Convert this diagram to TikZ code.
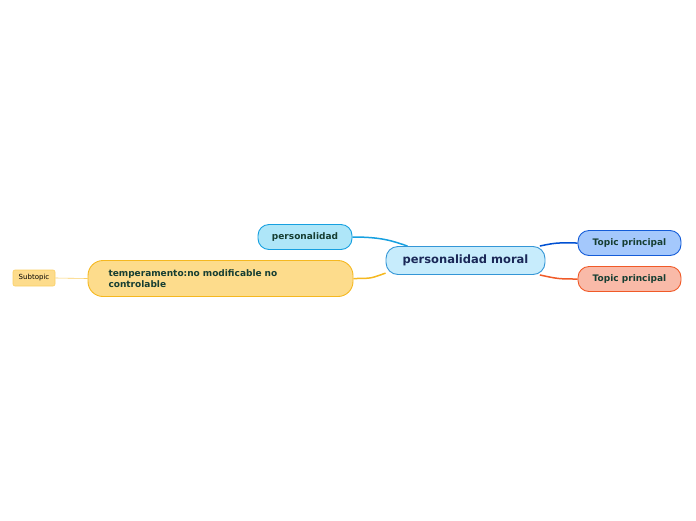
\documentclass[tikz,border=0pt]{standalone}
\usepackage{fontspec}
\setmainfont{DejaVu Sans}
\usetikzlibrary{backgrounds}
\definecolor{txtgreen}{RGB}{22,62,50}
\definecolor{txtnavy}{RGB}{26,40,88}
\definecolor{cfill}{RGB}{199,236,252}
\definecolor{cdraw}{RGB}{52,150,214}
\definecolor{pfill}{RGB}{174,230,248}
\definecolor{pdraw}{RGB}{22,160,224}
\definecolor{yfill}{RGB}{253,220,140}
\definecolor{ydraw}{RGB}{245,184,32}
\definecolor{sdraw}{RGB}{250,206,100}
\definecolor{bfill}{RGB}{164,200,252}
\definecolor{bdraw}{RGB}{20,92,216}
\definecolor{bline}{RGB}{0,80,210}
\definecolor{rfill}{RGB}{249,186,168}
\definecolor{rdraw}{RGB}{240,90,40}
\tikzset{
  topicbox/.style={draw, line width=0.9pt, rounded corners=11pt, font=\bfseries\fontsize{9}{10}\selectfont, text=txtgreen, inner sep=0pt, minimum height=25pt},
  conn/.style={line width=1.5pt}
}
\begin{document}
\begin{tikzpicture}[x=1pt,y=-1pt]
\useasboundingbox (0,0) rectangle (696,520);
\node[draw=cdraw, fill=cfill, line width=0.9pt, rounded corners=12pt, minimum width=159pt, minimum height=28pt, inner sep=0pt, font=\bfseries\fontsize{11.5}{12}\selectfont, text=txtnavy] (central) at (465.5,260.5) {personalidad moral};
\node[topicbox, draw=pdraw, fill=pfill, minimum width=94pt] (pers) at (305,237) {personalidad};
\node[topicbox, draw=ydraw, fill=yfill, rounded corners=15pt, minimum width=265pt, minimum height=36pt, text width=224pt, align=left, inner xsep=20.5pt, font=\bfseries\fontsize{9}{11.5}\selectfont] (temp) at (220.5,278.5) {temperamento:no modificable no\\controlable};
\node[draw=sdraw, fill=yfill, line width=0.6pt, rounded corners=2pt, minimum width=42pt, minimum height=16pt, inner sep=0pt, font=\fontsize{7}{8}\selectfont] (sub) at (34,278) {Subtopic};
\node[topicbox, draw=bdraw, fill=bfill, minimum width=103pt] (t1) at (629.5,243) {Topic principal};
\node[topicbox, draw=rdraw, fill=rfill, minimum width=103pt] (t2) at (629.5,279) {Topic principal};
\begin{scope}[on background layer]
\draw[conn, draw=pdraw] (pers.east) .. controls +(30,0) and +(-15,-5) .. (central.166);
\draw[conn, draw=ydraw] (temp.east) .. controls +(20,0) and +(-15,5) .. (central.189);
\draw[conn, draw=bline] (central.11) .. controls +(18,-4) and +(-18,0) .. (t1.west);
\draw[conn, draw=rdraw] (central.-11) .. controls +(18,4) and +(-18,0) .. (t2.west);
\draw[line width=0.6pt, draw=sdraw] (sub.east) -- (temp.west);
\end{scope}
\end{tikzpicture}
\end{document}
